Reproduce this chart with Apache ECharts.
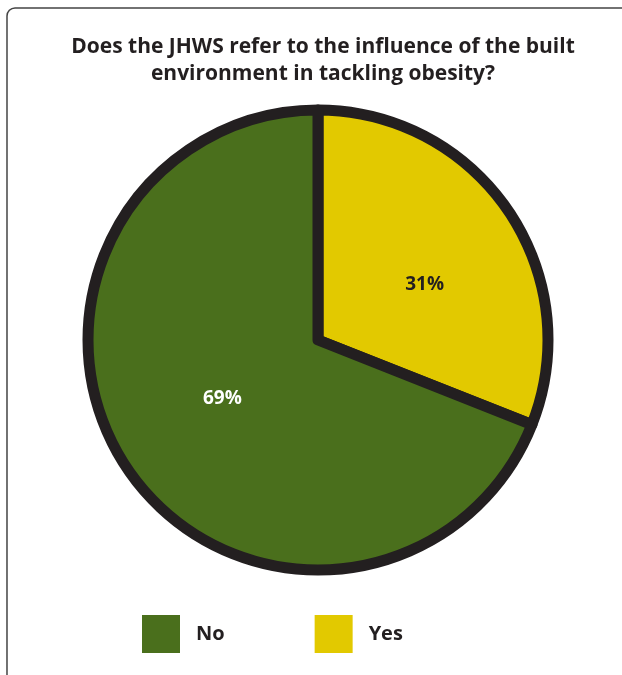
<!DOCTYPE html>
<html>
<head>
<meta charset="utf-8">
<script src="https://cdn.jsdelivr.net/npm/echarts@6/dist/echarts.min.js"></script>
<style>
  html, body { margin: 0; padding: 0; background: #ffffff; }
  #chart { width: 622px; height: 675px; }
</style>
</head>
<body>
<div id="chart"></div>
<script>
// Data
const categories = ['Yes', 'No'];
const shares = [31, 69];
const legendOrder = ['No', 'Yes'];
const sliceColors = { Yes: '#e2c900', No: '#4a6f1c' };
const labelColors = { Yes: '#231f20', No: '#ffffff' };
// small nudges so the percentages sit where the original put them
const labelOffsets = { Yes: [9, 11], No: [2, -8] };

const chart = echarts.init(document.getElementById('chart'));
const font = '"Open Sans", "DejaVu Sans", sans-serif';

const pieData = categories.map((name, i) => ({
  name: name,
  value: shares[i],
  itemStyle: { color: sliceColors[name] },
  label: { color: labelColors[name], offset: labelOffsets[name] }
}));

const option = {
  backgroundColor: '#ffffff',
  animation: false,
  title: {
    text: 'Does the JHWS refer to the influence of the built\nenvironment in tackling obesity?',
    left: 318,
    textAlign: 'center',
    top: 29,
    textStyle: {
      color: '#231f20',
      fontFamily: font,
      fontWeight: 'bold',
      fontSize: 21,
      lineHeight: 27
    }
  },
  graphic: [{
    type: 'rect',
    shape: { x: 7, y: 8, width: 700, height: 700, r: 8 },
    style: { fill: 'none', stroke: '#444444', lineWidth: 1.5 },
    silent: true
  }],
  legend: {
    data: legendOrder,
    left: 137,
    top: 610,
    itemWidth: 38,
    itemHeight: 38,
    itemGap: 90,
    icon: 'rect',
    itemStyle: { borderWidth: 0 },
    textStyle: {
      color: '#231f20',
      fontFamily: font,
      fontWeight: 'bold',
      fontSize: 20,
      padding: [0, 0, 0, 11]
    }
  },
  series: [{
    type: 'pie',
    center: [318, 340],
    radius: 230,
    startAngle: 90,
    clockwise: true,
    itemStyle: {
      borderColor: '#231f20',
      borderWidth: 11
    },
    label: {
      show: true,
      position: 'inside',
      formatter: '{c}%',
      fontFamily: font,
      fontWeight: 'bold',
      fontSize: 19
    },
    labelLine: { show: false },
    emphasis: { disabled: true },
    data: pieData
  }]
};

chart.setOption(option);
</script>
</body>
</html>
